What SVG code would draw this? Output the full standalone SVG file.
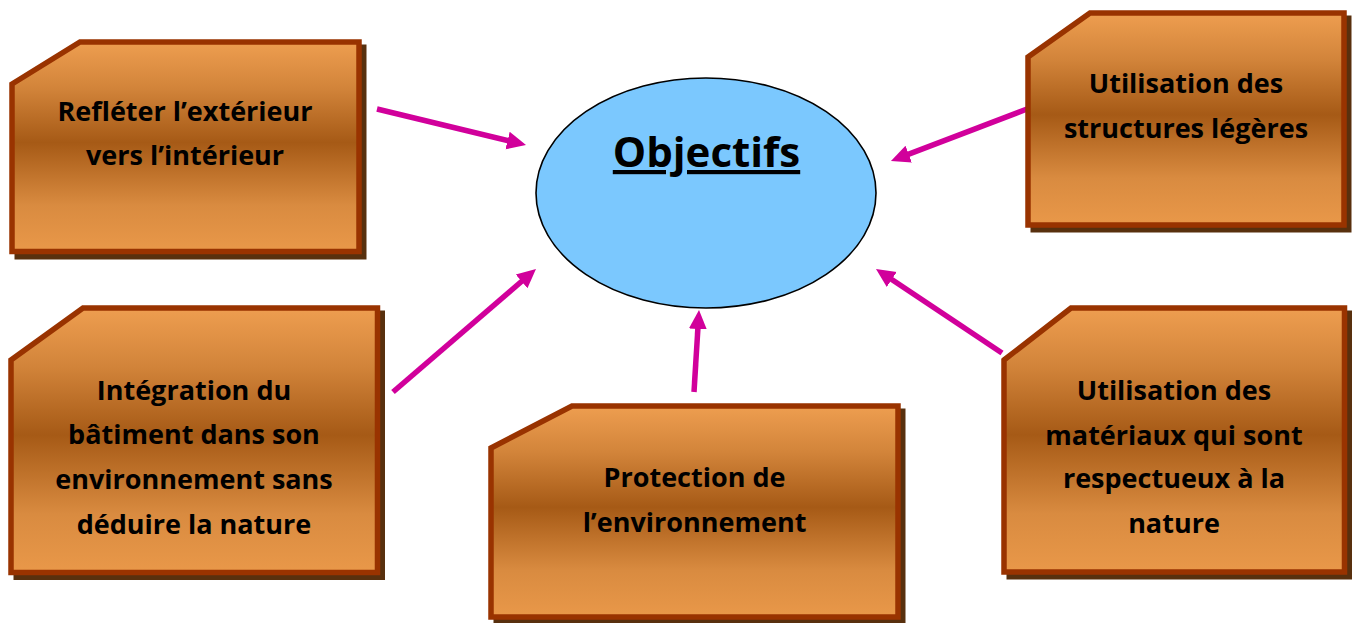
<svg xmlns="http://www.w3.org/2000/svg" width="1356" height="623" viewBox="0 0 1356 623">
  <defs>
    <linearGradient id="boxGrad" x1="0" y1="0" x2="0" y2="1">
      <stop offset="0" stop-color="#EE9E50"/>
      <stop offset="0.22" stop-color="#D2843A"/>
      <stop offset="0.48" stop-color="#A65A16"/>
      <stop offset="0.78" stop-color="#D98B40"/>
      <stop offset="1" stop-color="#E99849"/>
    </linearGradient>
    <marker id="arrow" markerUnits="userSpaceOnUse" markerWidth="20" markerHeight="20" viewBox="0 0 20 20" refX="9" refY="10" orient="auto">
      <path d="M0,1 L19,10 L0,19 Z" fill="#D1009B"/>
    </marker>
  </defs>
  <style>
    .shadow { fill: #58300E; stroke: #58300E; stroke-width: 5; stroke-linejoin: miter; }
    .box { fill: url(#boxGrad); stroke: #993300; stroke-width: 5.5; stroke-linejoin: miter; }
    .label { font-family: "Open Sans", "Liberation Sans", sans-serif; font-weight: bold; font-size: 27px; fill: #000; text-anchor: middle; }
    .title { font-family: "Open Sans", "Liberation Sans", sans-serif; font-weight: bold; font-size: 42px; fill: #000; text-anchor: middle; text-decoration: underline; }
    .conn { stroke: #D1009B; stroke-width: 5.5; fill: none; marker-end: url(#arrow); }
  </style>
  <rect width="1356" height="623" fill="#FFFFFF"/>

  <g id="connectors">
    <line class="conn" x1="377" y1="109" x2="516.3" y2="142.7"/>
    <line class="conn" x1="1027" y1="109" x2="900.3" y2="157.4"/>
    <line class="conn" x1="393" y1="392" x2="528.4" y2="275.5"/>
    <line class="conn" x1="1002" y1="353" x2="884.3" y2="274.5"/>
    <line class="conn" x1="694" y1="392" x2="698.4" y2="320"/>
  </g>

  <g id="node-objectifs">
    <ellipse cx="706" cy="193" rx="170" ry="115" fill="#7BC8FE" stroke="#000" stroke-width="1.6"/>
    <text class="title" x="706.5" y="167">Objectifs</text>
  </g>

  <g id="node-refleter">
    <polygon class="shadow" points="17,89 85,47 364,47 364,257 17,257"/>
    <polygon class="box" points="12,84 80,42 359,42 359,251.5 12,251.5"/>
    <text class="label" x="185" y="121">Refléter l’extérieur</text>
    <text class="label" x="185" y="165">vers l’intérieur</text>
  </g>

  <g id="node-structures">
    <polygon class="shadow" points="1033,62 1095,18 1349,18 1349,230 1033,230"/>
    <polygon class="box" points="1028,57 1090,13 1344,13 1344,225 1028,225"/>
    <text class="label" x="1186" y="93">Utilisation des</text>
    <text class="label" x="1186" y="138">structures légères</text>
  </g>

  <g id="node-integration">
    <polygon class="shadow" points="16,365 88,313 382.5,313 382.5,577.5 16,577.5"/>
    <polygon class="box" points="11,360 83,308 377.5,308 377.5,572.5 11,572.5"/>
    <text class="label" x="194" y="400">Intégration du</text>
    <text class="label" x="194" y="444">bâtiment dans son</text>
    <text class="label" x="194" y="489">environnement sans</text>
    <text class="label" x="194" y="534">déduire la nature</text>
  </g>

  <g id="node-protection">
    <polygon class="shadow" points="496,453 577,411 903,411 903,622 496,622"/>
    <polygon class="box" points="491,448 572,406 898,406 898,617 491,617"/>
    <text class="label" x="694.5" y="487">Protection de</text>
    <text class="label" x="694.5" y="532">l’environnement</text>
  </g>

  <g id="node-materiaux">
    <polygon class="shadow" points="1009,365 1076,313 1349.5,313 1349.5,577 1009,577"/>
    <polygon class="box" points="1004,360 1071,308 1344.5,308 1344.5,572 1004,572"/>
    <text class="label" x="1174" y="400">Utilisation des</text>
    <text class="label" x="1174" y="445">matériaux qui sont</text>
    <text class="label" x="1174" y="488">respectueux à la</text>
    <text class="label" x="1174" y="533">nature</text>
  </g>
</svg>
